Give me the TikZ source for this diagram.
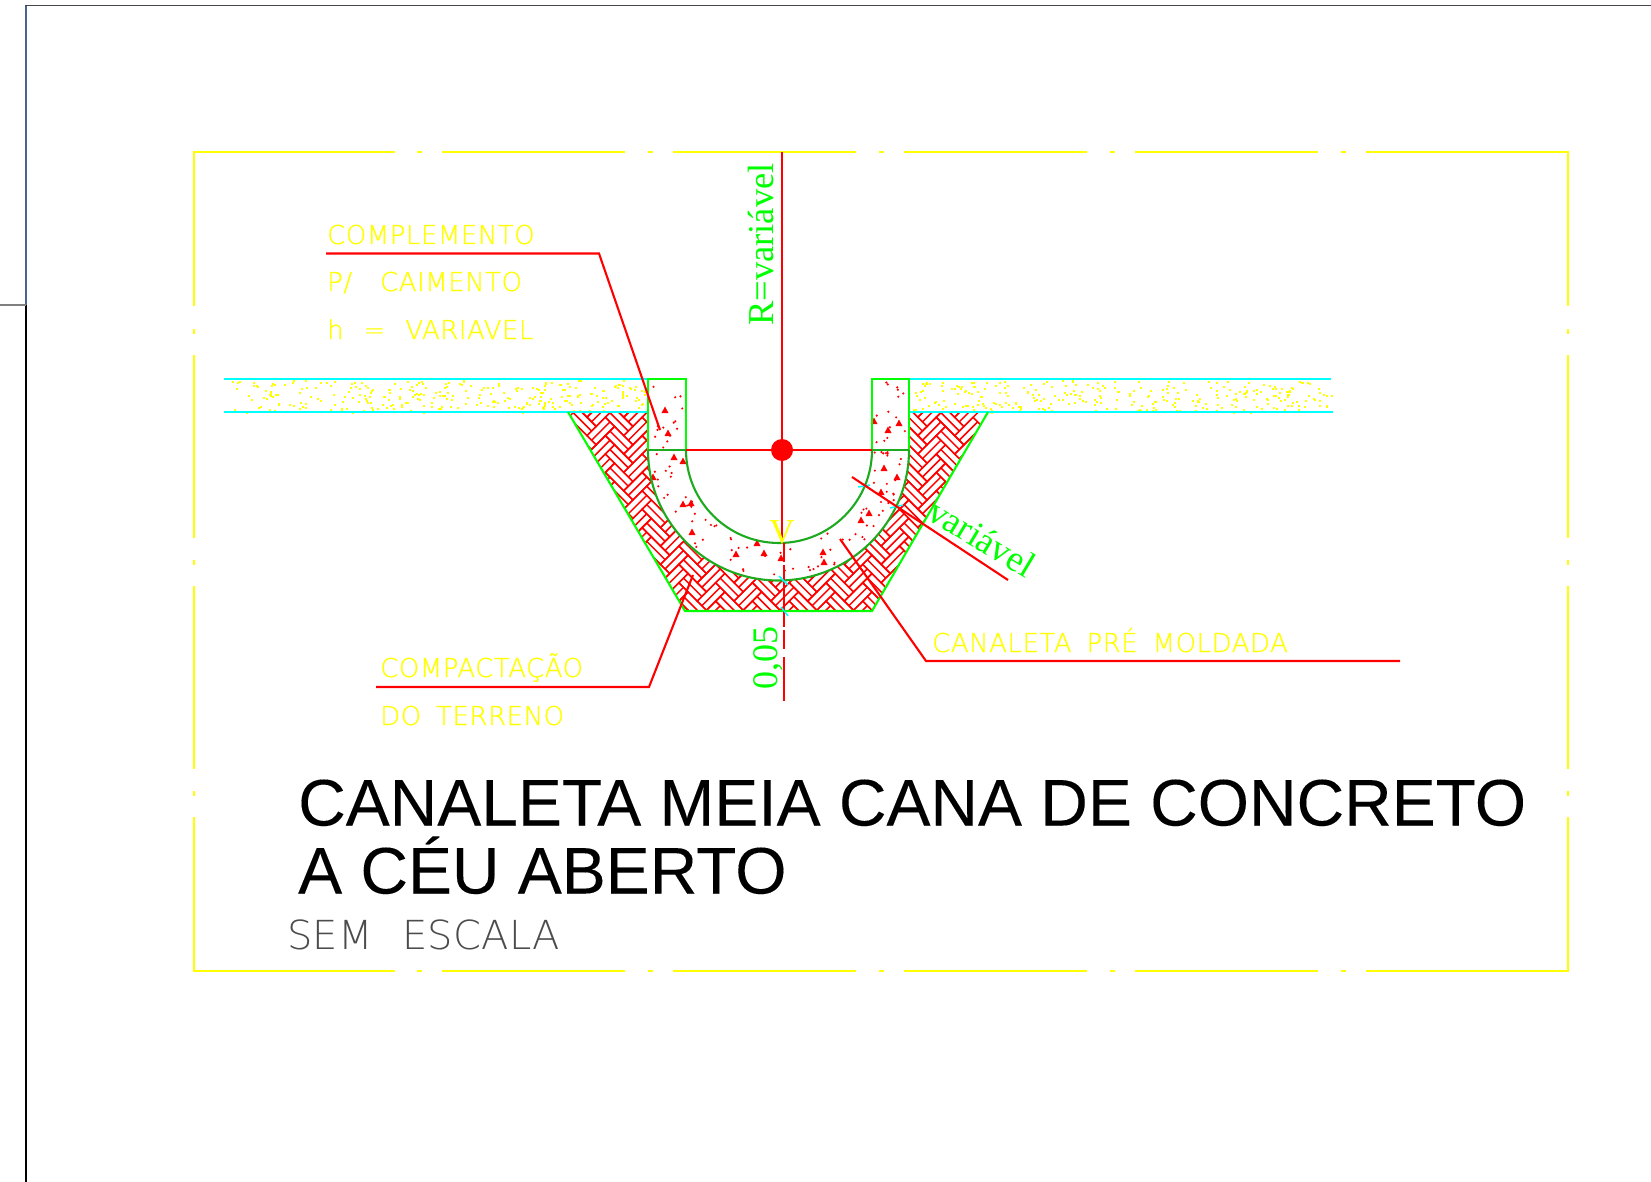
\documentclass[tikz,border=0pt]{standalone}
\usepackage{fontspec}
\setmainfont[FakeBold=0.12]{Liberation Sans}
\newfontfamily\cadfont[FakeBold=0.6,LetterSpace=2,WordSpace=1.7]{DejaVu Sans ExtraLight}
\newfontfamily\thinfont[LetterSpace=0.5,WordSpace=2.3]{DejaVu Sans ExtraLight}
\newfontfamily\dimfont{Liberation Serif}
\definecolor{cadyellow}{RGB}{255,255,0}
\definecolor{cadgreen}{RGB}{0,255,0}
\definecolor{arcgreen}{RGB}{30,170,30}
\definecolor{cadcyan}{RGB}{0,255,255}
\definecolor{cadred}{RGB}{255,0,0}
\tikzset{
	framel/.style={cadyellow,line width=2pt},
	leader/.style={cadred,line width=2.1pt},
	hatchl/.style={cadred,line width=1.5pt},
	wall/.style={cadgreen,line width=2.1pt},
	arcl/.style={arcgreen,line width=2.1pt},
	stripl/.style={cadcyan,line width=2.1pt},
	tickl/.style={cadcyan,line width=1.5pt},
	cadtext/.style={cadyellow,inner sep=0pt,anchor=base west,font=\cadfont\fontsize{26}{30}\selectfont},
	dimtext/.style={cadgreen,inner sep=0pt,anchor=base west,font=\dimfont\fontsize{36.5}{40}\selectfont},
	titletext/.style={black,inner sep=0pt,anchor=base west,font=\fontsize{65.9}{70}\selectfont}
}
\begin{document}
\begin{tikzpicture}[x=1pt,y=-1pt,line join=miter,line cap=butt]
			\useasboundingbox (0,0) rectangle (1651,1182);
			\def\cx{778.5} \def\cy{450}
			\def\rin{93} \def\rout{130.5}
			\pgfmathsetseed{4711}
			% sheet border
			\draw[line width=2pt,color={rgb,255:red,70;green,100;blue,140}] (26,5)--(26,305);
			\draw[line width=2pt,black] (26,305)--(26,1182);
			\draw[line width=1.6pt,color={rgb,255:red,70;green,70;blue,80}] (25,5.5)--(1651,5.5);
			\draw[line width=1.4pt,gray] (0,305)--(26,305);
			% yellow frame
			\foreach \yy in {152,971} {
				\draw[framel] (193,\yy)--(395,\yy);
				\draw[framel] (1366,\yy)--(1569,\yy);
				\foreach \xx in {442,673,904,1135} {\draw[framel] (\xx,\yy)--+(183,0);}
				\foreach \xx in {417,648,879,1110,1341} {\draw[framel] (\xx,\yy)--+(5,0);}
			}
			\foreach \xx in {193.5,1568} {
				\draw[framel] (\xx,152)--(\xx,306);
				\draw[framel] (\xx,817)--(\xx,972);
				\foreach \yy in {355,586} {\draw[framel] (\xx,\yy)--+(0,183);}
				\foreach \yy in {329,560,791} {\draw[framel] (\xx,\yy)--+(0,5);}
			}
			% herringbone under the channel
			\begin{scope}
				\clip (568,412)--(988,412)--(872,611)--(685,611)--cycle;
				\begin{scope}[shift={(780,500)},rotate=45,x=6.5pt,y=6.5pt]
					\foreach \k in {-5,...,5} {
						\foreach \t in {-14,...,14} {
							\pgfmathsetmacro{\ux}{4*\k+2*\t}
							\pgfmathsetmacro{\uy}{-4*\k+2*\t}
							\draw[hatchl] (\ux,\uy) rectangle +(4,2);
							\draw[hatchl] (\ux,\uy+1)--+(4,0);
							\draw[hatchl] (\ux-2,\uy) rectangle +(2,4);
							\draw[hatchl] (\ux-1,\uy)--+(0,4);
						}
					}
				\end{scope}
			\end{scope}
			\fill[white] (648,412)--(909,412)--(909,\cy) arc[start angle=0,end angle=180,radius=\rout]--cycle;
			% soil strips
			\foreach \i in {1,...,300} {
				\pgfmathsetmacro{\px}{230+415*rnd}
				\pgfmathsetmacro{\py}{380+32*rnd}
				\fill[cadyellow] (\px,\py) rectangle +(2,2);
				\pgfmathsetmacro{\qx}{912+420*rnd}
				\pgfmathsetmacro{\qy}{380+32*rnd}
				\fill[cadyellow] (\qx,\qy) rectangle +(2,2);
			}
			\draw[stripl] (224,379)--(648,379);
			\draw[stripl] (224,412)--(648,412);
			\draw[stripl] (909,379)--(1331,379);
			\draw[stripl] (909,412)--(1333,412);
			% concrete
			\foreach \i in {1,...,80} {
				\pgfmathsetmacro{\ang}{180*rnd}
				\pgfmathsetmacro{\rr}{\rin+3+(\rout-\rin-6)*rnd}
				\fill[cadred] ({\cx+\rr*cos(\ang)},{\cy+\rr*sin(\ang)}) circle (1.2pt);
			}
			\foreach \i in {1,...,14} {
				\pgfmathsetmacro{\px}{651+32*rnd}
				\pgfmathsetmacro{\py}{382+66*rnd}
				\fill[cadred] (\px,\py) circle (1.2pt);
				\pgfmathsetmacro{\qx}{875+31*rnd}
				\pgfmathsetmacro{\qy}{382+66*rnd}
				\fill[cadred] (\qx,\qy) circle (1.2pt);
			}
			\foreach \px/\py in {665/410,668/433,674/457,683/461,653/477,683/504,691/503,692/532,757/543,736/554,764/553,781/558,823/552,824/562,861/520,869/513,881/492,897/477,884/468,888/430,899/423,874/421} {
				\fill[cadred] (\px-3.5,\py+3)--(\px+3.5,\py+3)--(\px,\py-3.5)--cycle;
			}
			% channel section
			\draw[wall] (568,412)--(685,611)--(872,611)--(988,412);
			\draw[wall] (648,450)--(648,379)--(686,379)--(686,450);
			\draw[wall] (872,450)--(872,379)--(909,379)--(909,450);
			\draw[arcl] (648,450)--(686,450);
			\draw[arcl] (872,450)--(909,450);
			\draw[arcl] (648,\cy) arc[start angle=180,end angle=0,radius=\rout];
			\draw[arcl] (686,\cy) arc[start angle=180,end angle=0,radius=\rin];
			% axis and radius
			\node[fill=cadred,circle,inner sep=0pt,minimum size=22pt] (centre) at (782,450) {};
			\coordinate (axtop) at (782,152);
			\coordinate (axbot) at (782,543);
			\draw[leader] (axtop)--(axbot);
			\draw[leader] (686,450)--(centre)--(872,450);
			\foreach \ya/\yb in {543/562,565/627,630/649,657/701} {\draw[leader] (784,\ya)--(784,\yb);}
			% dimension ticks
			\draw[tickl] (779,576)--(788,585);
			\draw[tickl] (781,607)--(788,616);
			\draw[tickl] (858,487)--(870,485);
			\draw[tickl] (890,508)--(903,505);
			\coordinate (vara) at (852,477);
			\coordinate (varb) at (1008,580);
			\draw[leader] (vara)--(varb);
			% leaders
			\coordinate (compla) at (326,253.5);
			\coordinate (complb) at (599,253.5);
			\coordinate (complc) at (660,430);
			\draw[leader] (compla)--(complb)--(complc);
			\coordinate (compa) at (376,687);
			\coordinate (compb) at (649,687);
			\coordinate (compc) at (693,575);
			\draw[leader] (compa)--(compb)--(compc);
			\coordinate (cana) at (1400,661);
			\coordinate (canb) at (926,661);
			\coordinate (canc) at (840,539);
			\draw[leader] (cana)--(canb)--(canc);
			% labels
			\node[cadtext] (lblcomplone) at (327,244) {COMPLEMENTO};
			\node[cadtext] (lblcompltwo) at (327,291) {P/\hspace{13pt} CAIMENTO};
			\node[cadtext] (lblcomplthree) at (327,339) {h\hspace{5pt} = \hspace{5pt}VARIAVEL};
			\node[cadtext] (lblcompone) at (380,677) {COMPACTAÇÃO};
			\node[cadtext] (lblcomptwo) at (380,725) {DO TERRENO};
			\node[cadtext] (lblcanaleta) at (932,652) {CANALETA PRÉ MOLDADA};
			\node[dimtext,rotate=90] (lblraio) at (773,326) {R=variável};
			\node[dimtext,rotate=-31] (lblvar) at (925,518) {variável};
			\node[dimtext,rotate=90,font=\dimfont\fontsize{36}{38}\selectfont] (lblcota) at (777,690) {0,05};
			\node[dimtext,cadyellow,anchor=base,font=\dimfont\fontsize{35}{38}\selectfont] (lblv) at (782,543) {V};
			\node[titletext] (titleone) at (298,825.5) {CANALETA MEIA CANA DE CONCRETO};
			\node[titletext] (titletwo) at (298,893.5) {A CÉU ABERTO};
			\node[cadtext,color=black!70,font=\thinfont\fontsize{40}{44}\selectfont] (lblescala) at (287,949.5) {SEM ESCALA};
	\end{tikzpicture}
\end{document}
